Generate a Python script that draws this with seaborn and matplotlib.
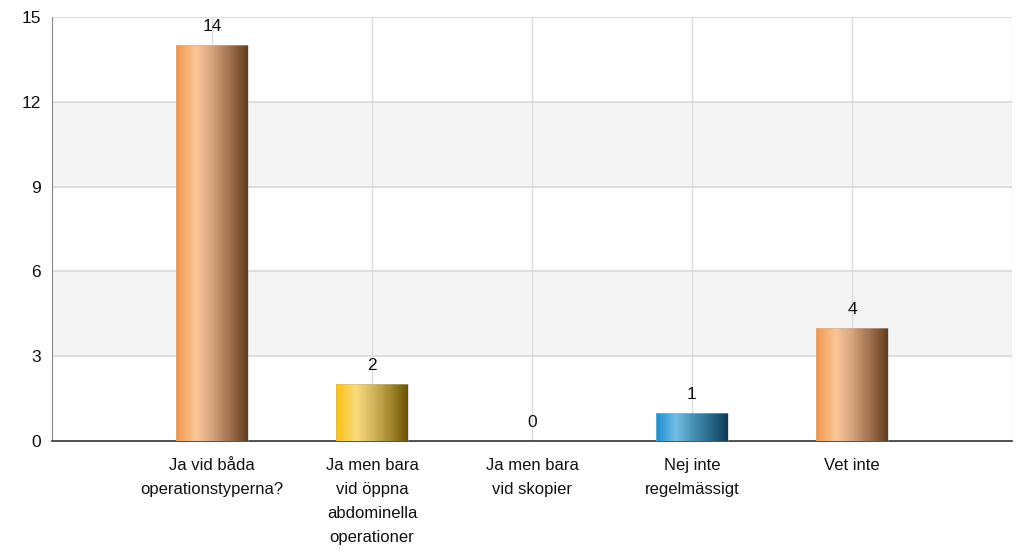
import numpy as np
import pandas as pd
import matplotlib
matplotlib.use("Agg")
import matplotlib.pyplot as plt
import seaborn as sns
from matplotlib.colors import LinearSegmentedColormap

categories = ["Ja vid båda\noperationstyperna?",
              "Ja men bara\nvid öppna\nabdominella\noperationer",
              "Ja men bara\nvid skopier",
              "Nej inte\nregelmässigt",
              "Vet inte"]
values = [14, 2, 0, 1, 4]
yticks = [0, 3, 6, 9, 12, 15]

gradients = [
    ["#F4964A", "#F9C698", "#D4A47C", "#A07050", "#623C1C"],
    ["#FCC010", "#FADB7C", "#D4B860", "#A58A30", "#6A5200"],
    ["#F4964A", "#F9C698", "#D4A47C", "#A07050", "#623C1C"],
    ["#1A8ED0", "#74BEE4", "#4A94B8", "#2A6A8C", "#0A3A56"],
    ["#F4964A", "#F9C698", "#D4A47C", "#A07050", "#623C1C"],
]

sns.set_style("white")
plt.rcParams['font.family'] = ['Liberation Sans', 'DejaVu Sans']

fig = plt.figure(figsize=(10.17, 5.52), dpi=100)
ax = fig.add_axes([52/1017, 111/552, 960/1017, 424/552])

df = pd.DataFrame({"cat": categories, "val": values})
sns.barplot(data=df, x="cat", y="val", ax=ax, width=0.45, color="white",
            linewidth=0, zorder=3)
bars = list(ax.patches)

ax.set_xlim(-1, 5)
ax.set_ylim(0, 15)

# bands
for lo, hi in [(3, 6), (9, 12)]:
    ax.axhspan(lo, hi, color="#F5F5F5", zorder=0, lw=0)
for y in yticks[1:]:
    ax.axhline(y, color="#D8D8D8", lw=1.2, zorder=1)
for x in range(0, 6):
    ax.axvline(x, color="#DCDCDC", lw=1, zorder=1)

# gradient fill
for i, p in enumerate(bars):
    x0, y0 = p.get_x(), p.get_y()
    w, h = p.get_width(), p.get_height()
    if h <= 0:
        continue
    cmap = LinearSegmentedColormap.from_list("g", [(0, gradients[i][0]), (0.28, gradients[i][1]),
                                                    (0.5, gradients[i][2]), (0.75, gradients[i][3]),
                                                    (1, gradients[i][4])])
    grad = np.linspace(0, 1, 256).reshape(1, -1)
    im = ax.imshow(grad, cmap=cmap, extent=[x0, x0 + w, y0, y0 + h], aspect="auto",
                   zorder=4, interpolation="bilinear")
    im.set_clip_path(p)
    ax.add_patch(plt.Rectangle((x0, y0), w, h, fill=False, ec="#BBBBBB", lw=0.6, zorder=5, alpha=0.6))

for i, v in enumerate(values):
    ax.annotate(str(v), (i, v), xytext=(0, 8), textcoords="offset points",
                ha="center", va="bottom", fontsize=12.5, color="#111111", zorder=6)

ax.set_yticks(yticks)
ax.set_yticklabels([str(t) for t in yticks], fontsize=12.5, color="#111111")
ax.set_xticks(range(0, 6))
ax.set_xticklabels(categories + [""], fontsize=12, color="#111111", linespacing=1.75)
ax.set_xlabel("")
ax.set_ylabel("")
ax.tick_params(axis="both", length=7, width=1, colors="#333333", labelcolor="#111111")
ax.tick_params(axis="x", pad=5)
ax.tick_params(axis="y", pad=1)

for s in ["top", "right"]:
    ax.spines[s].set_visible(False)
ax.spines["left"].set_color("#888888")
ax.spines["bottom"].set_color("#333333")
ax.spines["bottom"].set_linewidth(1.2)
ax.set_xlim(-1, 5)
ax.set_ylim(0, 15)

fig.savefig("out.png", dpi=100)
